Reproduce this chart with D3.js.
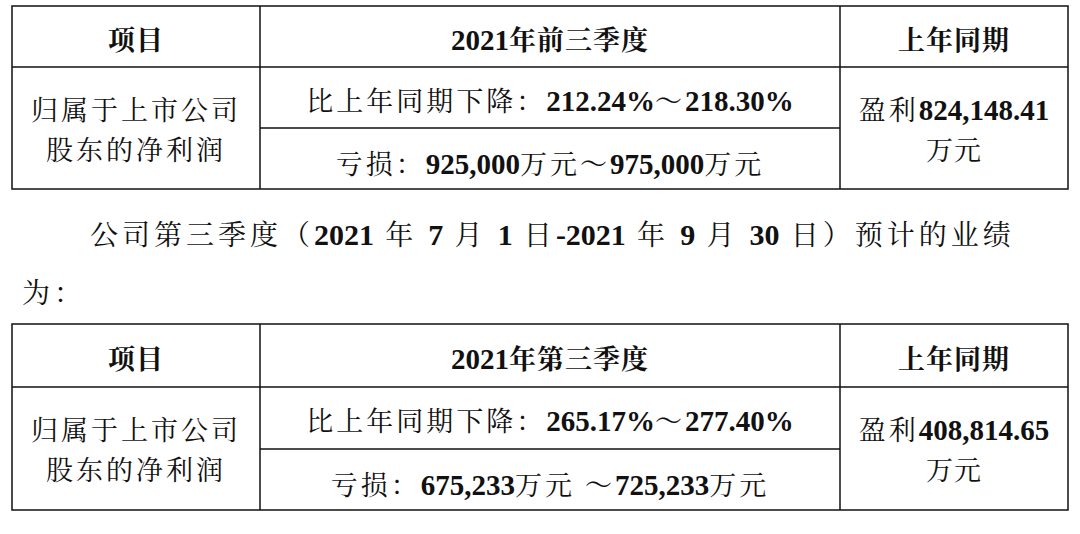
<!DOCTYPE html><html><head><meta charset="utf-8">
<script src="https://cdn.jsdelivr.net/npm/d3@7"></script>
<style>body{margin:0;background:#fff}</style></head><body><svg id="c" width="1080" height="534"></svg>
<script>
const headers1=["项目","2021年前三季度","上年同期"];
const headers2=["项目","2021年第三季度","上年同期"];
const leftLabel=["归属于上市公司","股东的净利润"];
const mid1=["比上年同期下降：212.24%～218.30%","亏损：925,000万元～975,000万元"];
const right1=["盈利824,148.41","万元"];
const mid2=["比上年同期下降：265.17%～277.40%","亏损：675,233万元 ～725,233万元"];
const right2=["盈利408,814.65","万元"];
const para=["公司第三季度（2021 年 7 月 1 日-2021 年 9 月 30 日）预计的业绩","为："];

const svg=d3.select("#c");
const cols=[12,260,840,1068];
const fontCN="'Noto Serif CJK SC','Noto Sans CJK SC',serif", fontEN="'Liberation Serif','Times New Roman',serif";
function txt(s,cx,y,bold,anchor,fs,ls){
  fs=fs||27;
  const t=svg.append("text").attr("x",cx).attr("y",y).attr("text-anchor",anchor||"middle")
   .attr("font-size",fs).attr("fill","#111").attr("dominant-baseline","middle");
  s.split(/([0-9.,%\-]+)/).forEach((p,i)=>{ if(!p)return;
    const num=i%2==1;
    t.append("tspan").text(p).attr("font-family",num?fontEN:fontCN)
     .attr("letter-spacing",num?0:(bold?1:(ls==null?3:ls)))
     .attr("font-size",num?fs+2:fs).attr("font-weight",(bold||num)?"bold":"normal");});
  return t;
}
function table(top,hr,mr,bot,h,mid,right){
  const g=svg.append("g").attr("stroke","#111").attr("stroke-width",1.5);
  g.append("rect").attr("x",cols[0]).attr("y",top).attr("width",cols[3]-cols[0]).attr("height",bot-top).attr("fill","none");
  g.append("line").attr("x1",cols[0]).attr("x2",cols[3]).attr("y1",hr).attr("y2",hr);
  g.append("line").attr("x1",cols[1]).attr("x2",cols[2]).attr("y1",mr).attr("y2",mr);
  [cols[1],cols[2]].forEach(c=>g.append("line").attr("x1",c).attr("x2",c).attr("y1",top).attr("y2",bot));
  const cx=[136,550,954];
  h.forEach((s,i)=>txt(s,cx[i],(top+hr)/2+6,true));
  txt(leftLabel[0],cx[0],hr+46);txt(leftLabel[1],cx[0],hr+86);
  txt(mid[0],cx[1],(hr+mr)/2+6);txt(mid[1],cx[1],(mr+bot)/2+8);
  txt(right[0],cx[2],hr+46);txt(right[1],cx[2],hr+86,false,"middle",27,1);
}
table(6,67,128,189,headers1,mid1,right1);
table(324,387,449,510,headers2,mid2,right2);
txt(para[0],90,238,false,"start",28,4);
txt(para[1],22,296,false,"start",28,4);
</script></body></html>
